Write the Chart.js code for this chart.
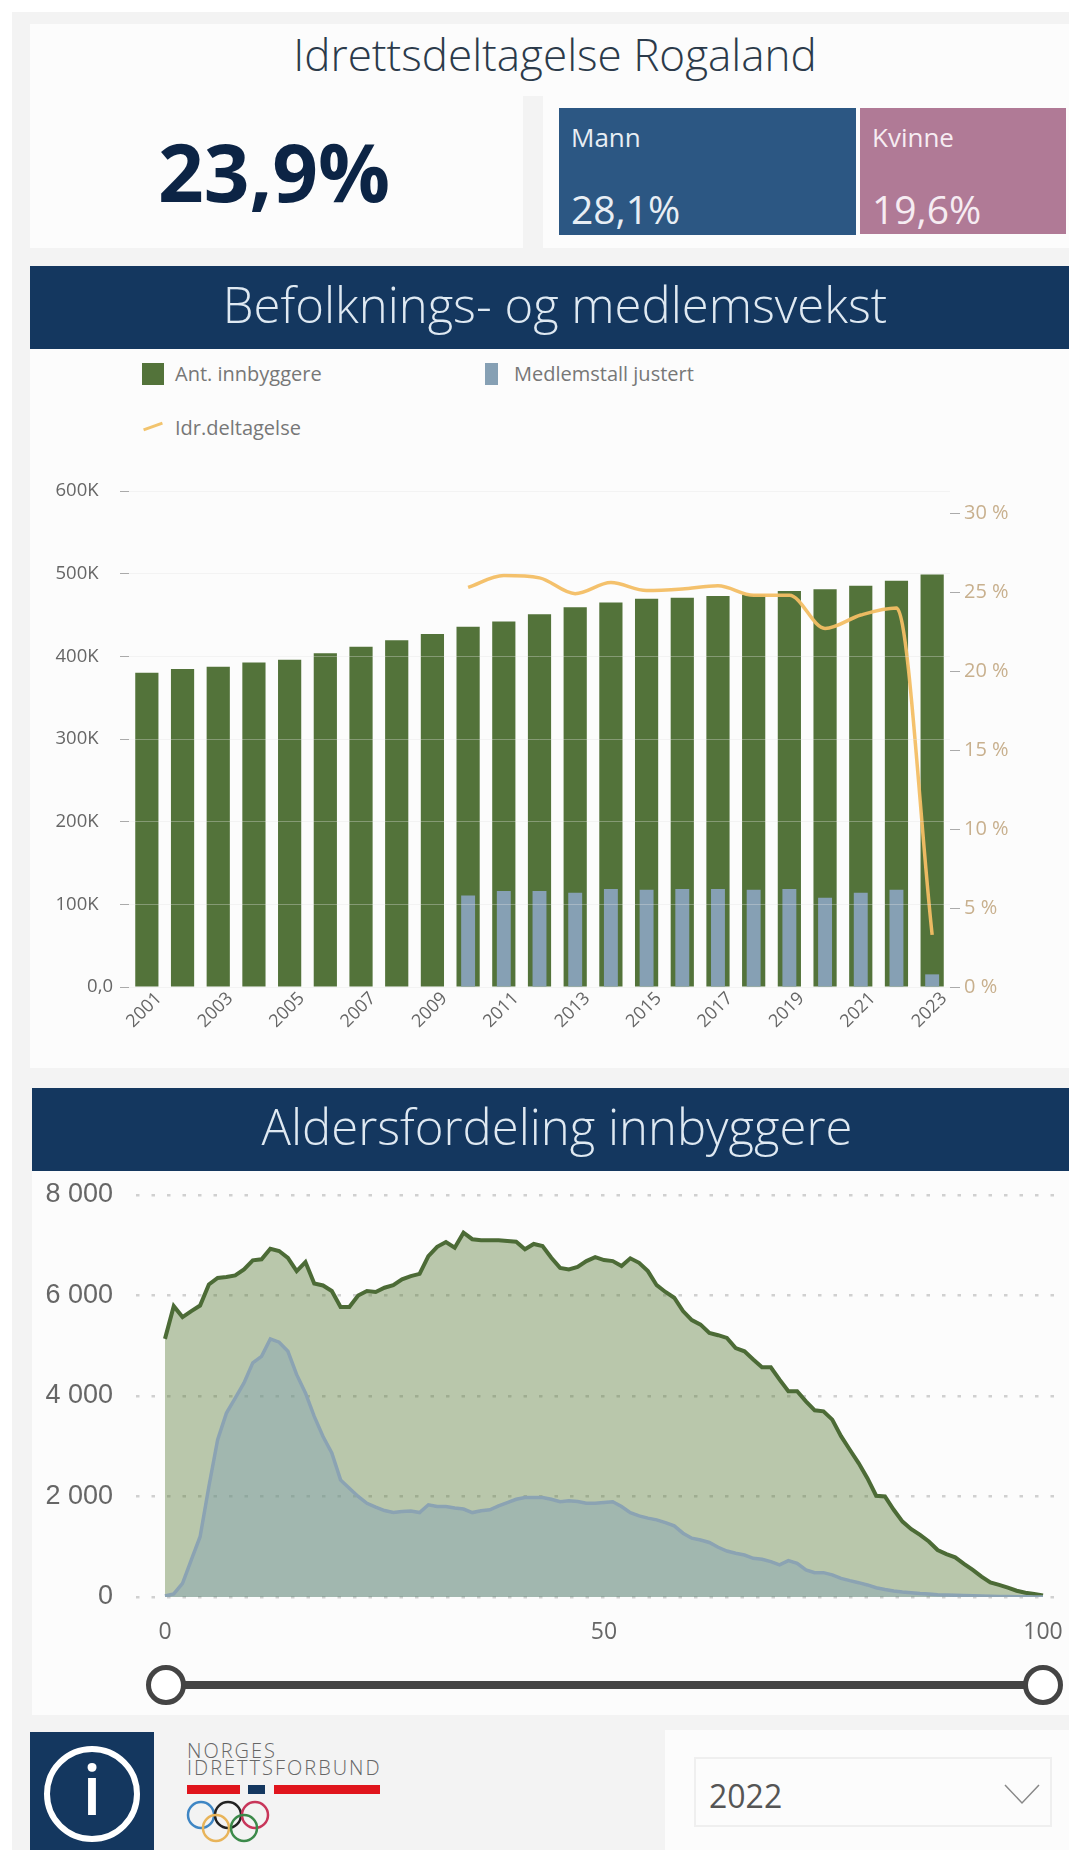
<!DOCTYPE html>
<html lang="no">
<head>
<meta charset="utf-8">
<title>Idrettsdeltagelse Rogaland</title>
<script src="https://cdn.jsdelivr.net/npm/chart.js@4"></script>
<style>
  html, body { margin: 0; padding: 0; background: #fff; }
  body { position: relative; width: 1069px; height: 1850px; overflow: hidden; font-family: "Open Sans", sans-serif; }
  .boks, .tekst, canvas { position: absolute; }
  .tekst { white-space: nowrap; line-height: 1; }
  .midt { transform: translateX(-50%); text-align: center; }
  .panel { background: #fcfcfc; }
  .banner { background: #14375f; }
  .bannertekst { color: #dfe9f2; font-size: 49px; font-weight: 300; }
  .legend { color: #777; font-size: 20px; }
</style>
</head>
<body>
<div class="boks" style="left:12px;top:12px;width:1057px;height:1838px;background:#f3f3f3"></div>

<div class="boks panel" style="left:30px;top:24px;width:1039px;height:72px"></div>
<div class="tekst midt" style="left:555px;top:32px;font-size:44px;font-weight:300;color:#2b3a4a">Idrettsdeltagelse Rogaland</div>

<div class="boks panel" style="left:30px;top:96px;width:493px;height:152px"></div>
<div class="tekst" style="left:158px;top:131px;font-size:80px;font-weight:700;color:#0c2445">23,9%</div>

<div class="boks panel" style="left:543px;top:96px;width:526px;height:152px"></div>
<div class="boks" style="left:559px;top:108px;width:297px;height:127px;background:#2c5783"></div>
<div class="tekst" style="left:571px;top:124px;font-size:26px;color:#e8eef4">Mann</div>
<div class="tekst" style="left:571px;top:189px;font-size:39px;color:#e8eef4">28,1%</div>
<div class="boks" style="left:860px;top:108px;width:206px;height:126px;background:#b07a96"></div>
<div class="tekst" style="left:872px;top:124px;font-size:26px;color:#f6ecf2">Kvinne</div>
<div class="tekst" style="left:872px;top:189px;font-size:39px;color:#f6ecf2">19,6%</div>

<div class="boks banner" style="left:30px;top:266px;width:1039px;height:83px"></div>
<div class="tekst midt bannertekst" style="left:555px;top:280px">Befolknings- og medlemsvekst</div>

<div class="boks panel" style="left:30px;top:349px;width:1039px;height:719px"></div>
<div class="boks" style="left:142px;top:363px;width:22px;height:22px;background:#53733a"></div>
<div class="tekst legend" style="left:175px;top:364px">Ant. innbyggere</div>
<div class="boks" style="left:485px;top:363px;width:13px;height:22px;background:#86a0b4"></div>
<div class="tekst legend" style="left:514px;top:364px">Medlemstall justert</div>
<div class="boks" style="left:143px;top:425px;width:20px;height:3px;background:#f2c46e;transform:rotate(-20deg)"></div>
<div class="tekst legend" style="left:175px;top:418px">Idr.deltagelse</div>
<canvas id="graficoBefolkning" width="1039" height="719" style="left:30px;top:349px"></canvas>

<div class="boks banner" style="left:32px;top:1088px;width:1037px;height:83px"></div>
<div class="tekst midt bannertekst" style="left:557px;top:1102px">Aldersfordeling innbyggere</div>

<div class="boks panel" style="left:32px;top:1171px;width:1037px;height:544px"></div>
<canvas id="graficoAlder" width="1037" height="480" style="left:32px;top:1171px"></canvas>

<!-- aldersvelger -->
<div class="boks" style="left:165px;top:1681px;width:877px;height:8px;background:#444"></div>
<div class="boks" style="left:146px;top:1665px;width:30px;height:30px;border:5px solid #444;border-radius:50%;background:#fff"></div>
<div class="boks" style="left:1023px;top:1665px;width:30px;height:30px;border:5px solid #444;border-radius:50%;background:#fff"></div>

<!-- info-knapp -->
<div class="boks" style="left:30px;top:1732px;width:124px;height:118px;background:#14375f"></div>
<div class="boks" style="left:44px;top:1746px;width:84px;height:84px;border:6px solid #fff;border-radius:50%"></div>
<div class="tekst midt" style="left:92px;top:1755px;font-size:68px;font-weight:600;color:#fff">i</div>

<!-- logo -->
<div class="tekst" style="left:187px;top:1741px;font-size:20px;font-weight:300;letter-spacing:2px;color:#666">NORGES</div>
<div class="tekst" style="left:187px;top:1758px;font-size:20px;font-weight:300;letter-spacing:2px;color:#666">IDRETTSFORBUND</div>
<div class="boks" style="left:187px;top:1785px;width:53px;height:9px;background:#e0141c"></div>
<div class="boks" style="left:248px;top:1785px;width:17px;height:9px;background:#14375f"></div>
<div class="boks" style="left:274px;top:1785px;width:106px;height:9px;background:#e0141c"></div>
<svg class="boks" style="left:180px;top:1796px" width="100" height="54" fill="none" stroke-width="2.5">
  <circle cx="21" cy="19" r="13" stroke="#3f86c4"/>
  <circle cx="48" cy="19" r="13" stroke="#222"/>
  <circle cx="75" cy="19" r="13" stroke="#c8365a"/>
  <circle cx="36" cy="32" r="13" stroke="#e8b45a"/>
  <circle cx="64" cy="32" r="13" stroke="#3c8a4a"/>
</svg>

<!-- år -->
<div class="boks" style="left:665px;top:1730px;width:404px;height:120px;background:#fcfcfc"></div>
<div class="boks" style="left:694px;top:1757px;width:354px;height:66px;border:2px solid #efefef"></div>
<div class="tekst" style="left:709px;top:1780px;font-size:32px;color:#555">2022</div>
<svg class="boks" style="left:1003px;top:1783px" width="38" height="22" fill="none" stroke="#888" stroke-width="1.5"><path d="M2 2 L19 20 L36 2"/></svg>

<script>
const anos = ['2001','2002','2003','2004','2005','2006','2007','2008','2009','2010','2011','2012','2013','2014','2015','2016','2017','2018','2019','2020','2021','2022','2023'];
const innbyggere = [380000,384600,387400,392500,396000,403600,411500,419400,427000,435700,442000,451000,459400,465000,469600,471000,473000,474500,479000,481000,485500,491500,499000];
const medlemstall = [null,null,null,null,null,null,null,null,null,110600,116000,116000,114000,118600,117600,118600,118600,117600,118600,108000,114000,117600,15300];
const deltagelse = [null,null,null,null,null,null,null,null,null,25.3,26.05,25.9,24.9,25.6,25.1,25.2,25.4,24.8,24.8,22.7,23.55,24.0,3.3];
const ticksVenstre = ['0,0','100K\u00a0\u00a0\u00a0','200K\u00a0\u00a0\u00a0','300K\u00a0\u00a0\u00a0','400K\u00a0\u00a0\u00a0','500K\u00a0\u00a0\u00a0','600K\u00a0\u00a0\u00a0'];
const ticksHoyre = [0,5,10,15,20,25,30];

const alder = [0,1,2,3,4,5,6,7,8,9,10,11,12,13,14,15,16,17,18,19,20,21,22,23,24,25,26,27,28,29,30,31,32,33,34,35,36,37,38,39,40,41,42,43,44,45,46,47,48,49,50,51,52,53,54,55,56,57,58,59,60,61,62,63,64,65,66,67,68,69,70,71,72,73,74,75,76,77,78,79,80,81,82,83,84,85,86,87,88,89,90,91,92,93,94,95,96,97,98,99,100];
const innbyggerePerAlder = [5137,5788,5570,5690,5800,6220,6350,6370,6400,6520,6700,6720,6930,6885,6750,6485,6665,6240,6200,6090,5770,5770,6000,6090,6070,6155,6205,6320,6385,6430,6785,6970,7065,6950,7250,7120,7100,7100,7100,7085,7070,6920,7025,6985,6750,6550,6520,6570,6685,6765,6705,6685,6585,6740,6650,6485,6205,6070,5955,5690,5510,5420,5255,5210,5155,4955,4890,4725,4570,4570,4325,4095,4095,3895,3715,3695,3530,3200,2930,2665,2365,2015,2000,1735,1500,1350,1235,1105,935,855,790,660,540,405,290,240,185,125,85,60,30];
const medlemmerPerAlder = [20,60,270,740,1200,2200,3130,3660,3960,4260,4660,4790,5135,5070,4890,4425,4060,3595,3195,2865,2330,2165,2000,1865,1790,1720,1680,1700,1710,1680,1835,1800,1800,1770,1750,1680,1715,1735,1815,1880,1945,1980,1980,1980,1945,1895,1915,1900,1865,1865,1880,1895,1800,1680,1615,1570,1535,1480,1415,1270,1170,1135,1085,990,915,870,835,770,750,705,640,725,670,540,485,485,440,370,325,285,240,185,150,120,100,85,70,60,45,40,35,30,25,20,15,12,8,6,4,2,1];
const ticksAlder = [0,50,100];

const graficoBefolkning = document.getElementById('graficoBefolkning');
new Chart(graficoBefolkning, {
  data: {
    labels: anos,
    datasets: [
      { type: 'line', label: 'Idr.deltagelse', data: deltagelse, yAxisID: 'y1', order: 0,
        borderColor: 'rgba(243,190,100,0.95)', borderWidth: 3.5, pointRadius: 0, cubicInterpolationMode: 'monotone', spanGaps: false },
      { type: 'bar', label: 'Medlemstall justert', data: medlemstall, yAxisID: 'y', order: 1,
        backgroundColor: '#86a0b4', barPercentage: 0.39, categoryPercentage: 1, grouped: false },
      { type: 'bar', label: 'Ant. innbyggere', data: innbyggere, yAxisID: 'y', order: 2,
        backgroundColor: '#53733a', barPercentage: 0.65, categoryPercentage: 1, grouped: false }
    ]
  },
  options: {
    responsive: false,
    animation: false,
    layout: { autoPadding: false, padding: { top: 142 } },
    plugins: { legend: { display: false }, tooltip: { enabled: false } },
    scales: {
      x: {
        grid: { display: false },
        border: { display: false },
        afterFit: (escala) => { escala.height = 81; },
        ticks: {
          autoSkip: false, minRotation: 45, maxRotation: 45, padding: -7, labelOffset: 12,
          color: '#666', font: { family: 'Open Sans', size: 18 },
          callback: (valor, i) => (i % 2 === 0 ? anos[i] : '')
        }
      },
      y: {
        min: 0, max: 600000,
        afterFit: (escala) => { escala.width = 99; },
        grid: { color: 'rgba(225,225,225,0.35)', tickColor: '#aaa', tickLength: 9, z: 1 },
        border: { display: false },
        ticks: {
          stepSize: 100000, padding: 7, color: '#666', font: { family: 'Open Sans', size: 18.5 },
          callback: (valor) => ticksVenstre[valor / 100000]
        }
      },
      y1: {
        position: 'right', min: 0, max: 31.4,
        afterBuildTicks: (escala) => { escala.ticks = ticksHoyre.map((v) => ({ value: v })); },
        afterFit: (escala) => { escala.width = 119; },
        grid: { drawOnChartArea: false, tickColor: '#aaa', tickLength: 10 },
        border: { display: false },
        ticks: {
          padding: 4, color: '#c8b08e', font: { family: 'Open Sans', size: 20 },
          callback: (valor) => valor + ' %'
        }
      }
    }
  }
});

const graficoAlder = document.getElementById('graficoAlder');
new Chart(graficoAlder, {
  type: 'line',
  data: {
    datasets: [
      { label: 'Medlemmer', data: alder.map((a, i) => ({ x: a, y: medlemmerPerAlder[i] })), order: 0,
        borderColor: '#8ba3b3', backgroundColor: 'rgba(125,160,180,0.4)', borderWidth: 3.5, pointRadius: 0, fill: 'origin', tension: 0 },
      { label: 'Innbyggere', data: alder.map((a, i) => ({ x: a, y: innbyggerePerAlder[i] })), order: 1,
        borderColor: '#4c6b36', backgroundColor: 'rgba(85,120,50,0.4)', borderWidth: 4, pointRadius: 0, fill: 'origin', tension: 0 }
    ]
  },
  options: {
    responsive: false,
    animation: false,
    layout: { autoPadding: false, padding: { top: 24, right: 6 } },
    plugins: { legend: { display: false }, tooltip: { enabled: false } },
    scales: {
      x: {
        type: 'linear', min: -3.3, max: 102.28,
        afterBuildTicks: (escala) => { escala.ticks = ticksAlder.map((v) => ({ value: v })); },
        // tick padding would otherwise shrink the plot area
        afterFit: (escala) => { escala.height = 54; escala.paddingLeft = 0; escala.paddingRight = 0; },
        grid: { display: false },
        border: { display: false },
        ticks: { padding: 14, maxRotation: 0, color: '#666', font: { family: 'Open Sans', size: 23 } }
      },
      y: {
        min: 0, max: 8000,
        afterFit: (escala) => { escala.width = 104; escala.paddingTop = 0; escala.paddingBottom = 0; },
        grid: { color: '#d0d0d0', lineWidth: 2.5, drawTicks: false },
        border: { display: false, dash: [3.5, 12] },
        ticks: {
          stepSize: 2000, padding: 23, color: '#666', font: { family: 'Liberation Sans', size: 27 },
          callback: (valor) => (valor === 0 ? '0' : (valor / 1000) + ' 000')
        }
      }
    }
  }
});
</script>
</body>
</html>
